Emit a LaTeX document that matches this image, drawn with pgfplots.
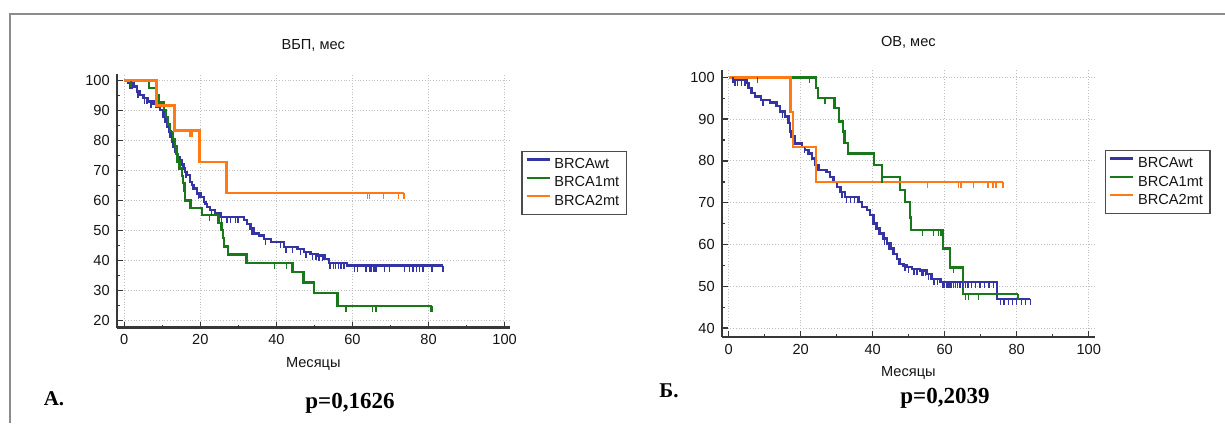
\documentclass[border=0pt]{standalone}
\usepackage{fontspec}
\setmainfont{Liberation Sans}
\newfontfamily\tnr{Liberation Serif}
\usepackage{pgfplots}
\pgfplotsset{compat=1.18}
\definecolor{cblue}{RGB}{52,52,165}
\definecolor{cgreen}{RGB}{25,120,25}
\definecolor{corange}{RGB}{255,122,20}
\definecolor{axgray}{RGB}{55,55,55}
\pgfdeclareplotmark{cens}{\pgfpathmoveto{\pgfqpoint{0pt}{0pt}}\pgfpathlineto{\pgfqpoint{0pt}{-\pgfplotmarksize}}\pgfusepathqstroke}
\pgfplotsset{
  kmaxis/.style={
    scale only axis, axis lines*=left,
    axis line style={axgray, line width=1.2pt},
    tick align=inside, major tick length=3pt, minor tick length=1.5pt,
    tick style={axgray, line width=0.7pt},
    minor x tick num=1, minor y tick num=1,
    grid=major, grid style={densely dotted, black!25, line width=0.5pt},
    xtick={0,20,...,100},
    tick label style={font=\fontsize{7.3}{8.7}\selectfont, text=black!92},
    /pgf/number format/assume math mode=true,
    label style={font=\fontsize{7.3}{8.7}\selectfont, text=black!92},
    title style={font=\fontsize{7.3}{8.7}\selectfont, text=black!92, at={(axis description cs:0.5,1)}, anchor=center, yshift=8pt},
    xlabel style={at={(axis description cs:0.5,0)}, anchor=center, yshift=-18pt},
    legend cell align=left,
    legend image code/.code={\draw[##1] plot coordinates {(0pt,2.6pt) (11.5pt,2.6pt)};},
    legend style={anchor=north west, draw=black!70, line width=0.7pt, font=\fontsize{7.3}{8.7}\selectfont, text=black!92, inner xsep=1.75pt, inner ysep=2pt, row sep=0pt, nodes={inner xsep=1.75pt, inner ysep=0pt, text height=6.5pt, text depth=2.65pt}},
  },
  kmline/.style={const plot, line width=1.2pt},
  censm/.style={only marks, mark=cens, mark size=3pt, mark options={line width=0.7pt}, forget plot},
}
\begin{document}
\begin{tikzpicture}[x=0.5pt,y=0.5pt]
\useasboundingbox (0,0) rectangle (1225,423);
\draw[black!45, line width=1pt] (9.5,0) -- (9.5,408.5) -- (1225,408.5);

% ---------- Left panel ----------
\begin{axis}[kmaxis, at={(58.35pt,47.65pt)}, anchor=south west,
  width=196.6pt, height=126.9pt,
  xmin=-2, xmax=101.4, ymin=17.7, ymax=102.2,
  ytick={20,30,...,100},
  title={ВБП, мес}, xlabel={Месяцы},
  legend style={at={(axis description cs:1.0288,0.6965)}}]
\addplot[kmline, cblue] coordinates {(0,100)(1.1,99.1)(2.4,98.0)(3.3,96.3)(4.1,95.2)(5.0,94.1)(6.3,93.0)(7.7,92.4)(8.5,91.3)(9.4,90.2)(10.3,88.0)(10.8,86.3)(11.2,84.6)(11.7,83.0)(12.1,81.3)(12.5,79.6)(12.9,78.0)(13.4,76.3)(13.8,74.6)(14.7,73.5)(15.1,72.1)(15.6,70.7)(16.0,69.6)(16.5,68.5)(17.3,66.3)(17.8,65.2)(18.2,64.0)(19.1,62.4)(20.0,61.2)(20.9,59.6)(21.3,58.8)(21.7,57.9)(22.6,56.8)(23.9,55.7)(25.3,54.6)(31.4,53.5)(32.3,52.3)(33.2,50.7)(34.1,49.0)(35.4,48.4)(36.7,47.3)(38.5,46.2)(42.0,44.5)(45.5,43.9)(47.3,42.9)(49.0,42.3)(50.8,41.8)(52.6,40.6)(53.9,39.2)(58.5,38.4)(83.8,38.4)};
\addlegendentry{BRCAwt}
\addplot[kmline, cgreen] coordinates {(0,100)(6.5,97.6)(8.3,95.1)(9.0,92.7)(10.5,90.2)(11.0,87.8)(11.5,85.3)(12.0,82.9)(12.8,80.4)(13.3,78.0)(13.7,75.6)(14.0,73.1)(14.5,70.7)(15.2,68.2)(15.5,65.8)(15.8,63.4)(16.0,60.1)(17.4,57.6)(20.4,55.2)(24.8,52.6)(25.6,50.2)(25.9,47.6)(26.2,44.8)(27.2,42.1)(32.1,39.2)(44.2,36.2)(47.1,32.7)(49.9,29.3)(56.1,25.0)(80.9,25.0)};
\addlegendentry{BRCA1mt}
\addplot[kmline, corange] coordinates {(0,100)(8.5,91.67)(13.2,83.33)(19.8,72.92)(26.9,62.5)(73.5,62.5)};
\addlegendentry{BRCA2mt}
\addplot[censm, cblue] coordinates {(1.5,99.1)(2.0,99.1)(3.6,96.3)(5.3,94.1)(6.0,94.1)(7.0,93.0)(12.0,83.0)(16.2,69.6)(19.5,62.4)(22.9,56.8)(25.6,54.6)(27.0,54.6)(27.9,54.6)(29.2,54.6)(29.7,54.6)(30.1,54.6)(33.6,50.7)(37.2,47.3)(41.0,46.2)(42.5,44.5)(44.2,44.5)(46.4,43.9)(47.8,42.9)(49.5,42.3)(50.4,42.3)(51.2,41.8)(52.1,41.8)(53.9,39.2)(54.3,39.2)(55.0,39.2)(55.6,39.2)(56.3,39.2)(57.0,39.2)(57.8,39.2)(60.5,38.4)(61.4,38.4)(63.6,38.4)(64.4,38.4)(64.9,38.4)(65.7,38.4)(66.2,38.4)(68.4,38.4)(69.7,38.4)(73.7,38.4)(75.0,38.4)(75.9,38.4)(76.8,38.4)(77.6,38.4)(78.5,38.4)(80.9,38.4)(83.8,38.4)};
\addplot[censm, cgreen] coordinates {(1.8,100)(22.4,55.2)(39.5,39.2)(42.6,39.2)(58.3,25.0)(65.3,25.0)(66.2,25.0)(80.5,25.0)(80.9,25.0)};
\addplot[censm, corange] coordinates {(17.3,83.33)(17.8,83.33)(64.0,62.5)(64.4,62.5)(68.2,62.5)(72.1,62.5)(73.5,62.5)};
\end{axis}

% ---------- Right panel ----------
\begin{axis}[kmaxis, at={(360.85pt,42.85pt)}, anchor=south west,
  width=186.65pt, height=133.65pt,
  xmin=-1.94, xmax=101.75, ymin=37.8, ymax=101.75,
  ytick={40,50,...,100},
  title={ОВ, мес}, xlabel={Месяцы},
  legend style={at={(axis description cs:1.0268,0.7007)}}]
\addplot[kmline, cblue] coordinates {(0,100)(1.8,99.4)(5.0,98.6)(5.5,97.4)(6.4,96.2)(7.3,95.4)(9.0,94.6)(11.5,94.0)(13.3,93.2)(14.3,91.8)(15.7,90.6)(16.6,89.0)(17.1,87.0)(17.5,85.8)(18.4,84.2)(20.3,83.4)(21.2,82.6)(22.2,81.8)(23.1,80.6)(24.0,79.0)(24.9,77.8)(27.2,77.4)(28.2,76.2)(29.1,75.0)(30.0,73.8)(31.0,72.6)(32.3,71.4)(36.1,70.2)(37.0,69.0)(38.4,68.2)(39.3,67.0)(40.2,65.0)(41.1,63.8)(42.1,62.6)(43.0,61.4)(43.9,60.2)(44.9,59.0)(45.8,57.8)(46.7,56.6)(47.6,55.4)(48.6,55.0)(49.5,54.6)(50.9,54.2)(53.2,53.8)(55.1,53.0)(56.4,51.8)(58.8,51.0)(74.5,47.0)(83.8,47.0)};
\addlegendentry{BRCAwt}
\addplot[kmline, cgreen] coordinates {(0,100)(24.3,97.4)(24.8,95.0)(29.4,92.6)(30.7,89.4)(31.7,87.0)(32.2,84.3)(33.1,81.8)(40.4,79.0)(42.5,76.2)(47.6,73.0)(48.9,70.2)(50.3,66.5)(50.7,63.4)(59.5,59.0)(61.5,54.5)(65.1,48.2)(80.4,48.2)};
\addlegendentry{BRCA1mt}
\addplot[kmline, corange] coordinates {(0,100)(17.2,91.67)(17.8,83.33)(24.3,75.0)(76.2,75.0)};
\addlegendentry{BRCA2mt}
\addplot[censm, cblue] coordinates {(1.2,100)(1.8,99.4)(2.5,99.4)(3.5,99.4)(4.5,99.4)(6.0,97.4)(9.5,94.6)(15.0,91.8)(21.0,83.4)(28.0,77.4)(31.5,72.6)(32.8,71.4)(33.8,71.4)(35.0,71.4)(40.7,65.0)(41.6,63.8)(43.3,61.4)(44.5,60.2)(47.2,56.6)(49.0,55.0)(50.0,54.6)(51.5,54.2)(52.3,54.2)(53.5,53.8)(54.0,53.8)(54.6,53.8)(55.5,53.0)(56.0,53.0)(57.0,51.8)(58.0,51.8)(59.5,51.0)(60.0,51.0)(60.6,51.0)(61.2,51.0)(61.8,51.0)(62.5,51.0)(63.0,51.0)(63.6,51.0)(64.2,51.0)(65.0,51.0)(65.8,51.0)(66.5,51.0)(67.5,51.0)(68.5,51.0)(69.8,51.0)(71.0,51.0)(72.3,51.0)(73.5,51.0)(75.5,47.0)(76.5,47.0)(77.8,47.0)(78.8,47.0)(80.0,47.0)(81.3,47.0)(82.5,47.0)(83.8,47.0)};
\addplot[censm, cgreen] coordinates {(8.0,100)(22.4,100)(26.8,95.0)(42.6,76.2)(53.9,63.4)(56.9,63.4)(58.3,63.4)(59.0,63.4)(62.5,54.5)(65.7,48.2)(66.6,48.2)(69.4,48.2)(80.4,48.2)};
\addplot[censm, corange] coordinates {(55.2,75)(63.9,75)(64.5,75)(68.0,75)(72.0,75)(73.4,75)(74.3,75)(76.2,75)};
\end{axis}

\node[font=\tnr\bfseries\fontsize{10.5}{12}\selectfont, anchor=base] at (54,18) {А.};
\node[font=\tnr\bfseries\fontsize{11.5}{13}\selectfont, anchor=base] at (350,15) {p=0,1626};
\node[font=\tnr\bfseries\fontsize{10.5}{12}\selectfont, anchor=base] at (669,26) {Б.};
\node[font=\tnr\bfseries\fontsize{11.5}{13}\selectfont, anchor=base] at (945,20) {p=0,2039};
\end{tikzpicture}
\end{document}
